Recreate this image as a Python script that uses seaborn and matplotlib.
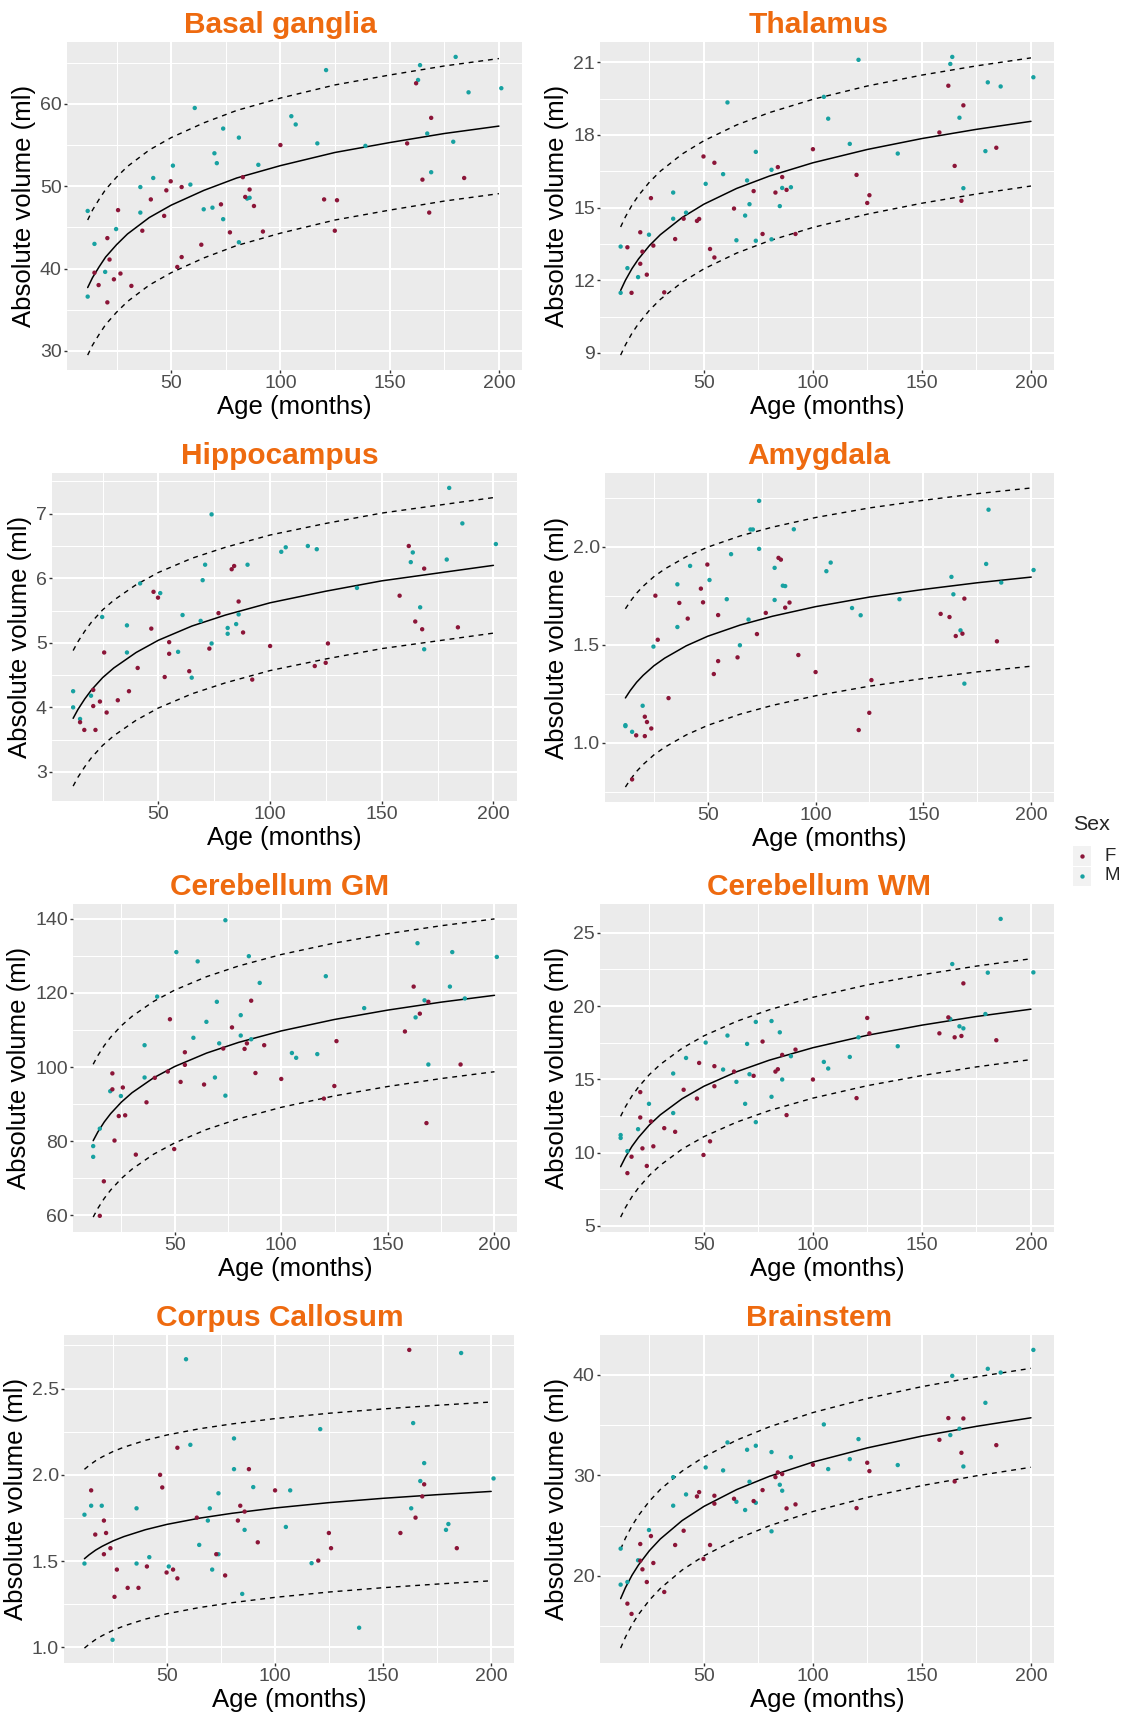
import pandas as pd
import numpy as np
import matplotlib
matplotlib.use('Agg')
import matplotlib.pyplot as plt
from matplotlib.ticker import FixedLocator, FuncFormatter
import seaborn as sns

# Edades de los sujetos (meses), iguales en todos los paneles
age_m = [11.8, 14.9, 11.8, 19.8, 24.8, 35.9, 35.9, 41.8, 50.8, 58.8, 60.8, 64.9, 68.9, 69.8, 70.9,
         73.8, 73.8, 81.0, 81.0, 84.8, 85.9, 89.9, 105.0, 107.0, 116.9, 120.9, 138.9, 163.0, 163.9,
         167.2, 169.0, 179.1, 180.2, 186.1, 201.1]
age_f = [14.9, 16.8, 20.8, 20.8, 21.8, 23.8, 25.7, 26.8, 31.8, 36.8, 40.7, 46.8, 47.8, 49.8, 52.8,
         54.8, 54.8, 63.8, 72.8, 76.9, 82.8, 83.9, 85.9, 87.9, 92.0, 100.0, 120.0, 124.9, 125.9,
         158.0, 162.1, 165.0, 168.1, 169.0, 184.1]

# edades donde se leyeron las curvas (ajuste y bandas)
fit_age = [11.8, 14, 17, 20, 25, 30, 40, 50, 65, 80, 100, 125, 150, 175, 200]

# Basal ganglia
bg_m = [47.0, 43.0, 36.6, 39.6, 44.8, 49.9, 46.8, 51.0, 52.5, 50.2, 59.5, 47.2, 47.4, 54.0, 52.8,
        57.0, 46.0, 55.9, 43.2, 48.5, 48.6, 52.6, 58.5, 57.5, 55.2, 64.1, 54.9, 62.9, 64.7,
        56.4, 51.7, 55.4, 65.7, 61.4, 61.9]
bg_f = [39.5, 38.0, 43.7, 35.9, 41.1, 38.7, 47.1, 39.4, 37.9, 44.6, 48.4, 46.4, 49.5, 50.6, 40.2,
        41.4, 49.9, 42.9, 47.8, 44.4, 51.1, 48.7, 49.6, 47.6, 44.5, 55.0, 48.4, 44.6, 48.3,
        55.2, 62.5, 50.8, 46.8, 58.3, 51.0]
bg_fit = [37.7, 38.9, 40.2, 41.4, 42.9, 44.2, 46.2, 47.7, 49.5, 51.0, 52.5, 54.1, 55.3, 56.4, 57.3]
bg_hi = [45.9, 47.1, 48.4, 49.6, 51.1, 52.4, 54.4, 55.9, 57.7, 59.2, 60.7, 62.3, 63.5, 64.6, 65.5]
bg_lo = [29.5, 30.7, 32.0, 33.2, 34.7, 36.0, 38.0, 39.5, 41.3, 42.8, 44.3, 45.9, 47.1, 48.2, 49.1]
bg_ticks = [30, 40, 50, 60]

# Thalamus
th_m = [13.39, 12.5, 11.48, 12.13, 13.88, 15.62, 14.54, 14.79, 15.98, 16.38, 19.34, 13.65, 14.67, 16.12, 15.14,
        17.30, 13.63, 16.56, 13.69, 15.06, 15.81, 15.84, 19.57, 18.67, 17.63, 21.1, 17.23, 20.93, 21.22,
        18.71, 15.8, 17.33, 20.17, 20.0, 20.38]
th_f = [13.36, 11.48, 13.98, 12.68, 13.18, 12.23, 15.39, 13.43, 11.50, 13.7, 14.54, 14.45, 14.53, 17.11, 13.29,
        16.85, 12.94, 14.96, 15.68, 13.91, 15.62, 16.67, 16.26, 15.73, 13.91, 17.41, 16.35, 15.19, 15.51,
        18.1, 20.03, 16.72, 15.28, 19.22, 17.47]
th_fit = [11.58, 12.00, 12.48, 12.88, 13.43, 13.88, 14.59, 15.14, 15.79, 16.30, 16.85, 17.40, 17.85, 18.23, 18.56]
th_hi = [14.20, 14.62, 15.10, 15.50, 16.05, 16.50, 17.21, 17.76, 18.41, 18.92, 19.47, 20.02, 20.47, 20.85, 21.18]
th_lo = [8.91, 9.33, 9.81, 10.21, 10.76, 11.21, 11.92, 12.47, 13.12, 13.63, 14.18, 14.73, 15.18, 15.56, 15.89]
th_ticks = [9, 12, 15, 18, 21]

# Hippocampus
hc_m = [4.25, 3.82, 4.0, 4.18, 5.40, 5.27, 4.85, 5.92, 5.77, 4.86, 5.43, 4.46, 5.34, 5.97, 6.21,
        6.99, 4.99, 5.23, 5.14, 5.29, 5.44, 6.21, 6.41, 6.48, 6.50, 6.45, 5.85, 6.25, 6.40,
        5.55, 4.90, 6.29, 7.40, 6.85, 6.53]
hc_f = [3.77, 3.65, 4.27, 4.02, 3.65, 4.09, 4.85, 3.92, 4.11, 4.25, 4.61, 5.22, 5.79, 5.70, 4.47,
        5.01, 4.83, 4.56, 4.91, 5.46, 6.14, 6.19, 5.64, 5.16, 4.43, 4.95, 4.64, 4.69, 4.99,
        5.73, 6.50, 5.33, 5.21, 6.15, 5.24]
hc_fit = [3.83, 3.97, 4.13, 4.27, 4.46, 4.61, 4.85, 5.04, 5.26, 5.43, 5.62, 5.80, 5.96, 6.08, 6.20]
hc_hi = [4.88, 5.02, 5.18, 5.32, 5.51, 5.66, 5.90, 6.09, 6.31, 6.48, 6.67, 6.85, 7.01, 7.13, 7.25]
hc_lo = [2.78, 2.92, 3.08, 3.22, 3.41, 3.56, 3.80, 3.99, 4.21, 4.38, 4.57, 4.75, 4.91, 5.03, 5.15]
hc_ticks = [3, 4, 5, 6, 7]

# Amygdala
am_m = [1.09, 1.056, 1.085, 1.189, 1.491, 1.809, 1.591, 1.903, 1.831, 1.733, 1.963, 1.498, 1.629, 2.089, 2.089,
        2.235, 1.99, 1.893, 1.729, 1.802, 1.80, 2.09, 1.876, 1.92, 1.688, 1.651, 1.733, 1.847, 1.758,
        1.574, 1.302, 1.913, 2.19, 1.818, 1.882]
am_f = [0.813, 1.038, 1.133, 1.034, 1.106, 1.073, 1.751, 1.526, 1.228, 1.714, 1.634, 1.787, 1.717, 1.91, 1.351,
        1.652, 1.417, 1.436, 1.555, 1.663, 1.944, 1.935, 1.69, 1.716, 1.448, 1.361, 1.065, 1.153, 1.32,
        1.658, 1.642, 1.545, 1.557, 1.736, 1.518]
am_fit = [1.229, 1.266, 1.309, 1.344, 1.393, 1.432, 1.495, 1.544, 1.601, 1.646, 1.695, 1.744, 1.783, 1.817, 1.846]
am_hi = [1.684, 1.721, 1.764, 1.799, 1.848, 1.887, 1.950, 1.999, 2.056, 2.101, 2.150, 2.199, 2.238, 2.272, 2.301]
am_lo = [0.774, 0.811, 0.854, 0.889, 0.938, 0.977, 1.040, 1.089, 1.146, 1.191, 1.240, 1.289, 1.328, 1.362, 1.391]
am_ticks = [1.0, 1.5, 2.0]

# Cerebellum GM
cg_m = [78.7, 83.4, 75.8, 93.5, 92.2, 105.9, 97.2, 119.0, 131.0, 107.9, 128.5, 112.2, 97.2, 117.6, 106.4,
        139.6, 92.3, 114.0, 108.5, 129.9, 107.5, 122.7, 103.8, 102.5, 103.5, 124.5, 115.9, 113.4, 133.4,
        118.0, 100.7, 121.7, 131.0, 118.5, 129.7]
cg_f = [59.9, 69.2, 98.3, 94.0, 80.2, 86.8, 94.5, 87.0, 76.4, 90.5, 97.1, 98.8, 112.9, 77.9, 96.0,
        104.0, 100.6, 95.3, 105.0, 110.7, 104.9, 106.4, 117.9, 98.4, 105.9, 96.8, 91.5, 94.9, 107.0,
        109.6, 121.7, 114.4, 84.9, 117.6, 100.7]
cg_fit = [80.16, 82.52, 85.21, 87.46, 90.55, 93.08, 97.06, 100.15, 103.78, 106.66, 109.75, 112.84, 115.37, 117.51, 119.35]
cg_hi = [100.76, 103.12, 105.81, 108.06, 111.15, 113.68, 117.66, 120.75, 124.38, 127.26, 130.35, 133.44, 135.97, 138.11, 139.95]
cg_lo = [59.56, 61.92, 64.61, 66.86, 69.95, 72.48, 76.46, 79.55, 83.18, 86.06, 89.15, 92.24, 94.77, 96.91, 98.75]
cg_ticks = [60, 80, 100, 120, 140]

# Cerebellum WM
cw_m = [11.2, 10.1, 11.0, 11.6, 13.33, 15.4, 12.7, 16.46, 17.51, 15.67, 17.99, 14.83, 13.33, 17.42, 15.35,
        18.92, 12.08, 18.98, 13.81, 18.21, 14.99, 16.58, 16.19, 15.74, 16.53, 17.87, 17.26, 19.12, 22.87,
        18.62, 18.48, 19.46, 22.28, 25.95, 22.30]
cw_f = [8.6, 9.72, 14.13, 12.4, 10.29, 9.09, 12.13, 10.43, 11.67, 11.42, 14.29, 13.69, 16.12, 9.84, 10.77,
        15.9, 14.53, 15.53, 15.24, 17.58, 15.53, 15.69, 16.67, 12.56, 17.03, 14.99, 13.72, 19.19, 18.14,
        18.14, 19.23, 17.87, 17.96, 21.55, 17.67]
cw_fit = [9.04, 9.69, 10.43, 11.04, 11.89, 12.58, 13.68, 14.53, 15.52, 16.31, 17.16, 18.01, 18.70, 19.29, 19.79]
cw_hi = [12.48, 13.13, 13.87, 14.48, 15.33, 16.02, 17.12, 17.97, 18.96, 19.75, 20.60, 21.45, 22.14, 22.73, 23.23]
cw_lo = [5.60, 6.25, 6.99, 7.60, 8.45, 9.14, 10.24, 11.09, 12.08, 12.87, 13.72, 14.57, 15.26, 15.85, 16.35]
cw_ticks = [5, 10, 15, 20, 25]

# Corpus Callosum
cc_m = [1.769, 1.821, 1.486, 1.821, 1.044, 1.806, 1.486, 1.523, 1.469, 2.67, 2.174, 1.594, 1.735, 1.806, 1.451,
        1.893, 1.54, 2.211, 2.033, 1.31, 1.681, 1.929, 1.698, 1.91, 1.488, 2.265, 1.114, 1.806, 2.30,
        1.964, 2.068, 1.681, 1.715, 2.706, 1.979]
cc_f = [1.91, 1.654, 1.735, 1.54, 1.663, 1.575, 1.293, 1.451, 1.345, 1.345, 1.469, 2.0, 1.927, 1.434, 1.451,
        2.157, 1.40, 1.752, 1.54, 1.417, 1.735, 1.821, 1.787, 2.033, 1.609, 1.91, 1.503, 1.663, 1.575,
        1.663, 2.724, 1.752, 1.875, 1.945, 1.575]
cc_fit = [1.514, 1.537, 1.564, 1.586, 1.617, 1.642, 1.682, 1.713, 1.749, 1.777, 1.808, 1.839, 1.864, 1.885, 1.904]
cc_hi = [2.032, 2.055, 2.082, 2.104, 2.135, 2.160, 2.200, 2.231, 2.267, 2.295, 2.326, 2.357, 2.382, 2.403, 2.422]
cc_lo = [0.996, 1.019, 1.046, 1.068, 1.099, 1.124, 1.164, 1.195, 1.231, 1.259, 1.290, 1.321, 1.346, 1.367, 1.386]
cc_ticks = [1.0, 1.5, 2.0, 2.5]

# Brainstem
bs_m = [22.72, 19.4, 19.14, 21.56, 24.57, 29.83, 26.99, 28.11, 30.79, 30.5, 33.28, 27.38, 26.56, 32.55, 29.37,
        32.95, 27.28, 32.32, 24.44, 29.07, 28.48, 31.82, 35.07, 30.63, 31.62, 33.61, 31.03, 34.01, 39.9,
        34.64, 30.89, 37.22, 40.6, 40.23, 42.48]
bs_f = [17.25, 16.23, 23.18, 21.52, 20.66, 19.4, 23.97, 21.29, 18.41, 23.08, 24.5, 27.91, 28.34, 21.69, 23.08,
        27.98, 27.19, 27.68, 27.45, 28.54, 29.83, 30.30, 30.13, 26.72, 27.12, 31.06, 26.75, 31.26, 30.43,
        33.54, 35.7, 29.4, 32.25, 35.66, 33.01]
bs_fit = [17.75, 18.84, 20.07, 21.10, 22.52, 23.68, 25.51, 26.92, 28.59, 29.91, 31.33, 32.74, 33.91, 34.88, 35.73]
bs_hi = [22.67, 23.76, 24.99, 26.02, 27.44, 28.60, 30.43, 31.84, 33.51, 34.83, 36.25, 37.66, 38.83, 39.80, 40.65]
bs_lo = [12.83, 13.92, 15.15, 16.18, 17.60, 18.76, 20.59, 22.00, 23.67, 24.99, 26.41, 27.82, 28.99, 29.96, 30.81]
bs_ticks = [20, 30, 40]

x_ticks = [50, 100, 150, 200]

paneles = [
    ('Basal ganglia', bg_m, bg_f, bg_fit, bg_hi, bg_lo, bg_ticks),
    ('Thalamus', th_m, th_f, th_fit, th_hi, th_lo, th_ticks),
    ('Hippocampus', hc_m, hc_f, hc_fit, hc_hi, hc_lo, hc_ticks),
    ('Amygdala', am_m, am_f, am_fit, am_hi, am_lo, am_ticks),
    ('Cerebellum GM', cg_m, cg_f, cg_fit, cg_hi, cg_lo, cg_ticks),
    ('Cerebellum WM', cw_m, cw_f, cw_fit, cw_hi, cw_lo, cw_ticks),
    ('Corpus Callosum', cc_m, cc_f, cc_fit, cc_hi, cc_lo, cc_ticks),
    ('Brainstem', bs_m, bs_f, bs_fit, bs_hi, bs_lo, bs_ticks),
]

# posicion de cada panel en pixeles: izquierda, arriba, derecha, abajo
rects = [(67, 42, 522, 370), (600, 42, 1054, 370),
         (52, 473, 517, 801), (605, 473, 1054, 802),
         (73, 904, 517, 1232), (600, 904, 1054, 1232),
         (64, 1335, 514, 1663), (600, 1335, 1054, 1663)]
title_x = [280, 819]
title_base = [33, 464, 895, 1326]

COL_F = '#8B1538'
COL_M = '#17A1A1'
ORANGE = '#EE6A0F'

sns.set_theme(style='darkgrid', rc={'axes.facecolor': '#EBEBEB', 'grid.color': 'white'})
plt.rcParams['font.family'] = ['Liberation Sans', 'DejaVu Sans']

W, H = 1127, 1713
fig = plt.figure(figsize=(W / 100, H / 100), dpi=100)
fig.patch.set_facecolor('white')

for i, ((titulo, m, f, fit, hi, lo, yt), (l, t, r, b)) in enumerate(zip(paneles, rects)):
    ax = fig.add_axes([l / W, 1 - b / H, (r - l) / W, (b - t) / H])
    ax.set_facecolor('#EBEBEB')

    sns.lineplot(x=fit_age, y=hi, color='black', lw=1.0, linestyle=(0, (3.5, 3.5)), ax=ax)
    sns.lineplot(x=fit_age, y=lo, color='black', lw=1.0, linestyle=(0, (3.5, 3.5)), ax=ax)
    sns.lineplot(x=fit_age, y=fit, color='black', lw=1.1, ax=ax)

    df = pd.DataFrame({'age': age_m + age_f, 'vol': m + f,
                       'sex': ['M'] * len(m) + ['F'] * len(f)})
    sns.scatterplot(data=df, x='age', y='vol', hue='sex', palette={'F': COL_F, 'M': COL_M},
                    s=10, linewidth=0, legend=False, zorder=3, ax=ax)

    ax.margins(0.05)
    ax.xaxis.set_major_locator(FixedLocator(x_ticks))
    ax.xaxis.set_minor_locator(FixedLocator([25, 75, 125, 175]))
    paso = yt[1] - yt[0]
    ax.yaxis.set_major_locator(FixedLocator(yt))
    ax.yaxis.set_minor_locator(FixedLocator([yt[0] - paso / 2] + [v + paso / 2 for v in yt]))
    if isinstance(yt[0], float):
        ax.yaxis.set_major_formatter(FuncFormatter(lambda v, p: f'{v:.1f}'))
    else:
        ax.yaxis.set_major_formatter(FuncFormatter(lambda v, p: f'{v:g}'))

    ax.grid(which='major', color='white', lw=1.5)
    ax.grid(which='minor', color='white', lw=0.75)
    ax.set_axisbelow(True)
    for s in ax.spines.values():
        s.set_visible(False)
    ax.tick_params(which='major', length=2.2, width=1.0, color='#333333',
                   labelsize=14, labelcolor='#4D4D4D', pad=1.5, bottom=True, left=True)
    ax.tick_params(which='minor', length=0)

    ax.set_xlabel('Age (months)', fontsize=18.5, color='black', labelpad=2)
    ax.set_ylabel('Absolute volume (ml)', fontsize=18.5, color='black', labelpad=3)

    fig.text(title_x[i % 2] / W, 1 - title_base[i // 2] / H, titulo, ha='center', va='baseline',
             fontsize=21.5, fontweight='bold', color=ORANGE)

# Leyenda (Sex)
fig.text(1073 / W, 1 - 830 / H, 'Sex', fontsize=15.4, ha='left', va='baseline')
for j, (lab, col) in enumerate([('F', COL_F), ('M', COL_M)]):
    top = 846 + 20 * j
    kax = fig.add_axes([1073 / W, 1 - (top + 20) / H, 18 / W, 19.5 / H])
    kax.set_facecolor('#F2F2F2')
    kax.scatter([0], [0], s=10, color=col, linewidth=0)
    kax.set_xlim(-1, 1)
    kax.set_ylim(-1, 1)
    kax.set_xticks([])
    kax.set_yticks([])
    kax.grid(False)
    for s in kax.spines.values():
        s.set_visible(False)
    fig.text(1104 / W, 1 - (top + 10) / H, lab, fontsize=13.4, ha='left', va='center')

fig.savefig('out.png', dpi=100)
